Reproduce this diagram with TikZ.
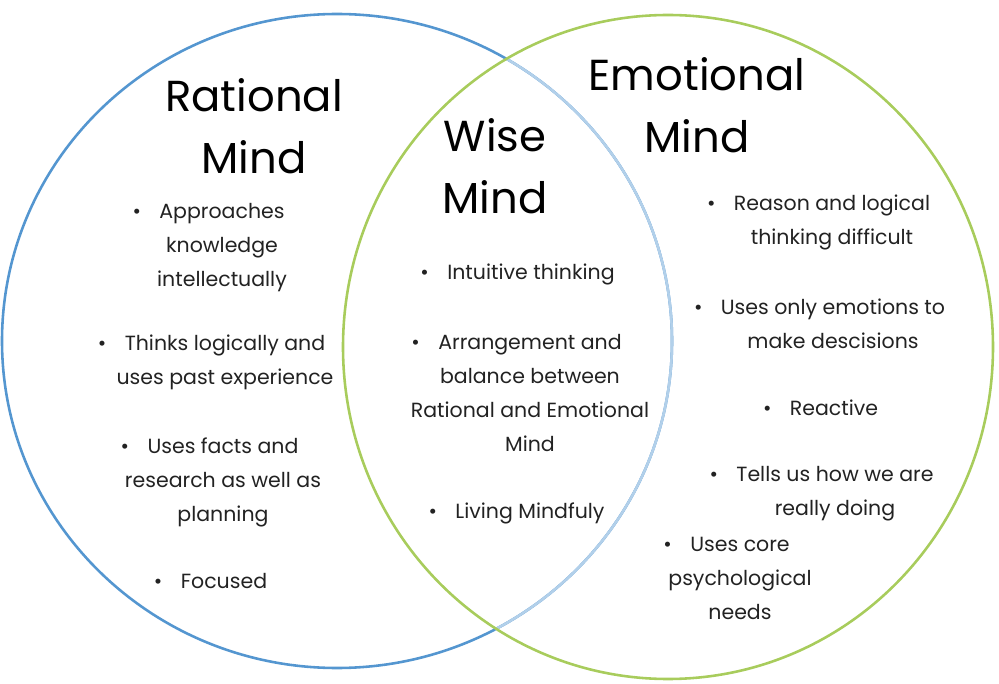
\documentclass[tikz,border=0pt]{standalone}
\usepackage{fontspec}
\setmainfont{Poppins}
\definecolor{ringblue}{RGB}{84,150,208}
\definecolor{ringgreen}{RGB}{168,204,92}
\definecolor{inkgray}{RGB}{34,34,34}
\newcommand{\bul}{\llap{\textbullet\hspace{0.9em}}}
\begin{document}
\begin{tikzpicture}[x=0.03cm, y=-0.03cm,
        title/.style={align=center, font=\fontsize{37}{53}\selectfont, text=black, inner sep=0pt},
        item/.style={align=center, font=\fontsize{17.5}{29}\selectfont, text=inkgray, inner sep=0pt}]
    \useasboundingbox (0,0) rectangle (999,684);
    % the two circles
    \draw[ringblue, line width=2.2pt] (337,341) ellipse [x radius=335, y radius=327];
    \begin{scope}
        \clip (668,347) ellipse [x radius=325, y radius=332];
        \draw[ringblue!45, line width=2.2pt] (337,341) ellipse [x radius=335, y radius=327];
    \end{scope}
    \draw[ringgreen, line width=2.2pt] (668,347) ellipse [x radius=325, y radius=332];
    % headings
    \node[title] (rational) at (254,126) {Rational\\Mind};
    \node[title] (wise) at (495,166) {Wise\\Mind};
    \node[title] (emotional) at (697,105) {Emotional\\Mind};
    % rational mind
    \node[item] (r1) at (222,248) {\bul Approaches\\knowledge\\intellectually};
    \node[item] (r2) at (225,362) {\bul Thinks logically and\\uses past experience};
    \node[item] (r3) at (223,482) {\bul Uses facts and\\research as well as\\planning};
    \node[item] (r4) at (224,581) {\bul Focused};
    % wise mind
    \node[item] (w1) at (531,274) {\bul Intuitive thinking};
    \node[item] (w2) at (530,393) {\bul Arrangement and\\balance between\\Rational and Emotional\\Mind};
    \node[item] (w3) at (530,513) {\bul Living Mindfuly};
    % emotional mind
    \node[item] (e1) at (832,222) {\bul Reason and logical\\thinking difficult};
    \node[item] (e2) at (833,324) {\bul Uses only emotions to\\make descisions};
    \node[item] (e3) at (834,408) {\bul Reactive};
    \node[item] (e4) at (835,494) {\bul Tells us how we are\\really doing};
    \node[item] (e5) at (740,578) {\bul Uses core\\psychological\\needs};
\end{tikzpicture}
\end{document}
